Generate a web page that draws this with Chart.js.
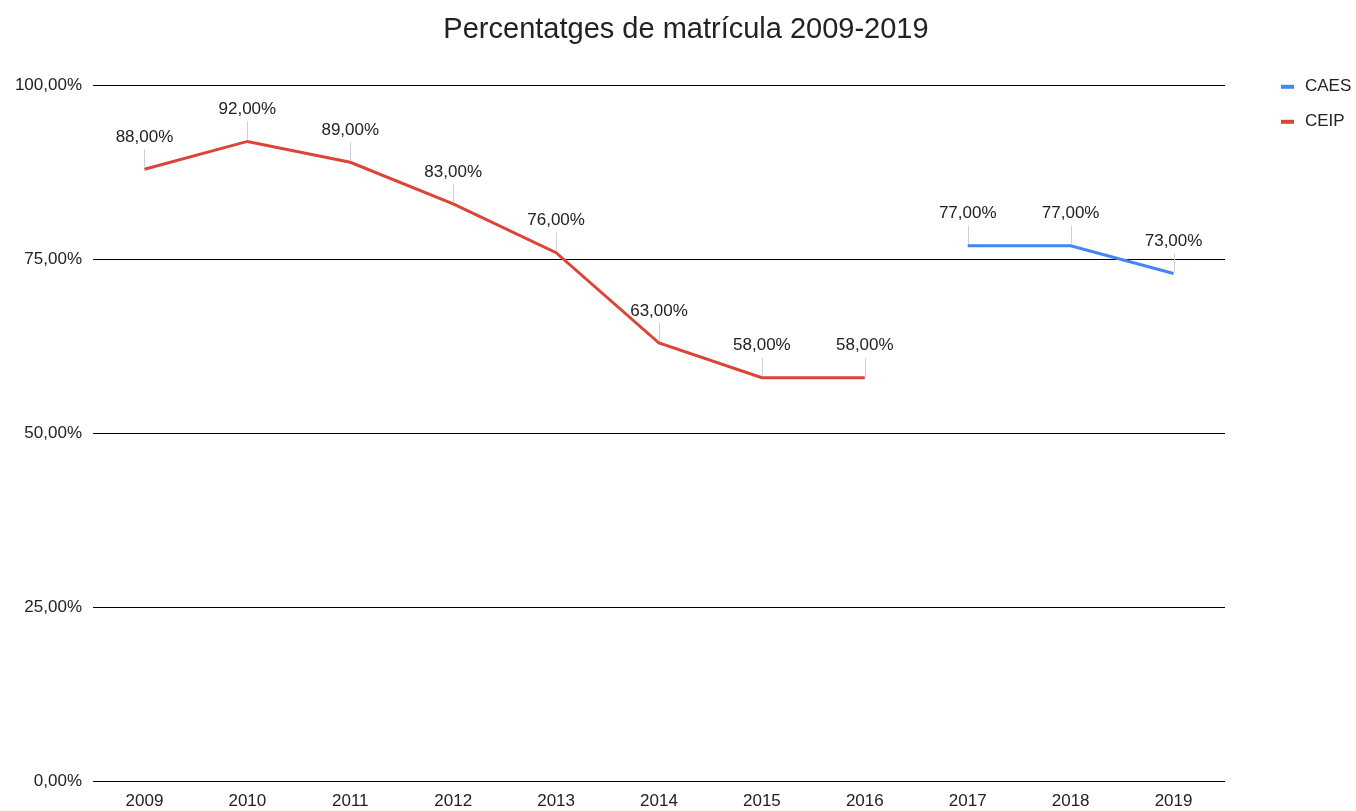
<!DOCTYPE html>
<html>
<head>
<meta charset="utf-8">
<script src="https://cdn.jsdelivr.net/npm/chart.js@4"></script>
<style>
  html, body { margin: 0; padding: 0; background: #fff; overflow: hidden; }
  canvas { display: block; }
</style>
</head>
<body>
<canvas id="c" width="1356" height="811"></canvas>
<script>
const years = ['2009','2010','2011','2012','2013','2014','2015','2016','2017','2018','2019'];
const caesValues = [null, null, null, null, null, null, null, null, 77, 77, 73];
const ceipValues = [88, 92, 89, 83, 76, 63, 58, 58, null, null, null];
const yTicks = [0, 25, 50, 75, 100];
const titleText = 'Percentatges de matrícula 2009-2019';

const FONT = 'Arial, "Liberation Sans", sans-serif';
const TEXT = '#222222';
const fmt = v => v.toFixed(2).replace('.', ',') + '%';

const labelPlugin = {
  id: 'pointLabels',
  afterDatasetsDraw(chart) {
    const ctx = chart.ctx;
    ctx.save();
    chart.data.datasets.forEach((ds, i) => {
      const meta = chart.getDatasetMeta(i);
      meta.data.forEach((pt, j) => {
        const v = ds.data[j];
        if (v === null || v === undefined) return;
        const x = pt.x, y = pt.y;
        const ty = y - 32;
        ctx.strokeStyle = '#d0d0d0';
        ctx.lineWidth = 1;
        ctx.beginPath();
        ctx.moveTo(Math.round(x) + 0.5, y - 2);
        ctx.lineTo(Math.round(x) + 0.5, ty + 12);
        ctx.stroke();
        ctx.fillStyle = TEXT;
        ctx.font = '17px ' + FONT;
        ctx.textAlign = 'center';
        ctx.textBaseline = 'middle';
        ctx.fillText(fmt(v), x, ty);
      });
    });
    ctx.restore();
  }
};

const legendPlugin = {
  id: 'sideLegend',
  afterDraw(chart) {
    const ctx = chart.ctx;
    const area = chart.chartArea;
    ctx.save();
    chart.data.datasets.forEach((ds, i) => {
      const cy = area.top + 1 + i * 35;
      const x0 = area.right + 56;
      ctx.fillStyle = ds.borderColor;
      ctx.fillRect(x0, cy - 2, 13, 4);
      ctx.fillStyle = TEXT;
      ctx.font = '17px ' + FONT;
      ctx.textAlign = 'left';
      ctx.textBaseline = 'middle';
      ctx.fillText(ds.label, x0 + 24, cy);
    });
    ctx.restore();
  }
};

new Chart(document.getElementById('c'), {
  type: 'line',
  data: {
    labels: years,
    datasets: [
      { label: 'CAES', data: caesValues, borderColor: '#4285F4', backgroundColor: '#4285F4',
        borderWidth: 3, pointRadius: 0, tension: 0, yAxisID: 'y' },
      { label: 'CEIP', data: ceipValues, borderColor: '#DB4437', backgroundColor: '#DB4437',
        borderWidth: 3, pointRadius: 0, tension: 0, yAxisID: 'y' }
    ]
  },
  options: {
    responsive: false,
    animation: false,
    devicePixelRatio: 1,
    layout: { padding: { left: 16, right: 0, top: 0, bottom: 0 } },
    plugins: {
      title: {
        display: true, text: titleText, color: TEXT,
        font: { family: FONT, size: 29, weight: 'normal' },
        padding: { top: 13, bottom: 38 }
      },
      legend: { display: false },
      tooltip: { enabled: false }
    },
    scales: {
      x: {
        offset: true,
        grid: { display: false, drawTicks: false },
        border: { display: false },
        ticks: { color: TEXT, font: { family: FONT, size: 17 }, padding: 10, maxRotation: 0 },
        afterFit(s) { s.height = 30; }
      },
      y: {
        position: 'left',
        min: 0, max: 100,
        afterBuildTicks(axis) { axis.ticks = yTicks.map(v => ({ value: v })); },
        grid: { color: '#000000', lineWidth: 1, drawTicks: false },
        border: { display: false },
        ticks: { color: TEXT, font: { family: FONT, size: 17 }, padding: 11,
          callback: v => fmt(v) },
        afterFit(s) { s.width = 77; }
      },
      legendSpace: {
        position: 'right',
        display: true,
        grid: { display: false, drawTicks: false },
        border: { display: false },
        ticks: { display: false },
        afterFit(s) { s.width = 131; }
      }
    }
  },
  plugins: [labelPlugin, legendPlugin]
});
</script>
</body>
</html>
